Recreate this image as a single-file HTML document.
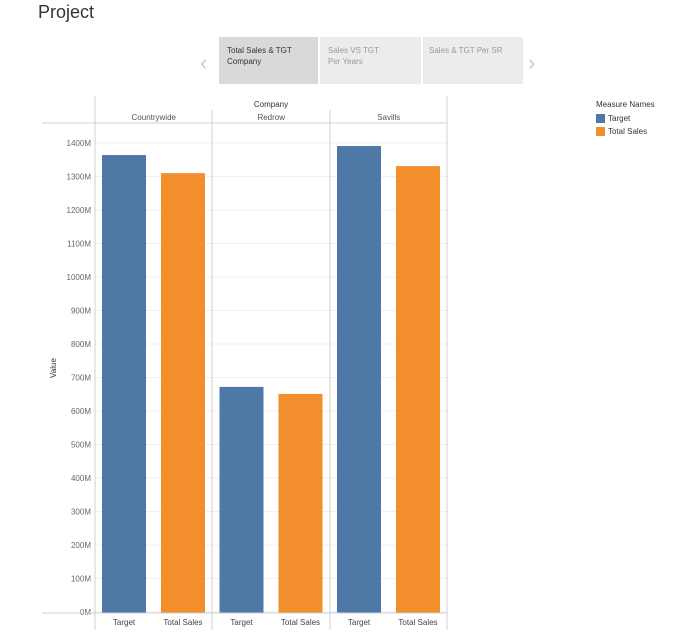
<!DOCTYPE html>
<html><head><meta charset="utf-8"><style>
body{margin:0;background:#fff;font-family:"Liberation Sans",sans-serif;}
#wrap{position:relative;width:692px;height:634px;overflow:hidden}
</style></head><body>
<div id="wrap">
<div style="position:absolute;left:38px;top:2px;font-size:18px;color:#333">Project</div>
<div style="position:absolute;left:200px;top:50px;font-size:22px;color:#ccc">‹</div>
<div style="position:absolute;left:219px;top:37px;width:99px;height:47px;background:#d9d9d9;font-size:8px;color:#333;padding:8px 0 0 8px;box-sizing:border-box;line-height:11px">Total Sales &amp; TGT<br>Company</div>
<div style="position:absolute;left:320px;top:37px;width:101px;height:47px;background:#ececec;font-size:8px;color:#999;padding:8px 0 0 8px;box-sizing:border-box;line-height:11px">Sales VS TGT<br>Per Years</div>
<div style="position:absolute;left:423px;top:37px;width:100px;height:47px;background:#ececec;font-size:8px;color:#999;padding:8px 0 0 6px;box-sizing:border-box;line-height:11px">Sales &amp; TGT Per SR</div>
<div style="position:absolute;left:528px;top:50px;font-size:22px;color:#ccc">›</div>
<div style="position:absolute;left:596px;top:100px;font-size:8px;color:#333">Measure Names</div>
<div style="position:absolute;left:596px;top:114px;font-size:8px;color:#333"><span style="display:inline-block;width:9px;height:9px;background:#4e79a7;vertical-align:middle;margin-right:3px"></span>Target</div>
<div style="position:absolute;left:596px;top:127px;font-size:8px;color:#333"><span style="display:inline-block;width:9px;height:9px;background:#f28e2b;vertical-align:middle;margin-right:3px"></span>Total Sales</div>
<svg id="chart" width="692" height="634" style="position:absolute;left:0;top:0"></svg>
</div>
<script>
const companies=["Countrywide","Redrow","Savills"];
const measures=["Target","Total Sales"];
const targetValues=[1364,672,1391];
const salesValues=[1310,651,1331];
const yTicks=[0,100,200,300,400,500,600,700,800,900,1000,1100,1200,1300,1400];
const colors=["#4e79a7","#f28e2b"];
const svg=document.getElementById('chart');
const NS="http://www.w3.org/2000/svg";
function el(t,a,p){const e=document.createElementNS(NS,t);for(const k in a)e.setAttribute(k,a[k]);(p||svg).appendChild(e);return e;}
const y0=612,pxPer=0.335;
function y(v){return y0-v*pxPer;}
const paneX0=95,paneW=117.5;
function paneX(i){return paneX0+i*paneW;}
// gridlines and ticks
yTicks.forEach(t=>{
  const g=el('line',{x1:95,x2:447,y1:y(t),y2:y(t),stroke:'#f0f0f0','stroke-width':1});
  
  
  const tx=el('text',{x:91,y:y(t)+3,'text-anchor':'end','font-size':8,fill:'#666','font-family':'Liberation Sans'});
  tx.textContent=t+'M';
  
  
});
// bars
const series=[targetValues,salesValues];
companies.forEach((c,i)=>{
  series.forEach((vals,j)=>{
    const bx=paneX(i)+7+j*59;
    const r=el('rect',{x:bx,y:y(vals[i]),width:44,height:y0-y(vals[i])+1,fill:colors[j]});
    
    
    const lx=el('text',{x:bx+22,y:625,'text-anchor':'middle','font-size':8,fill:'#444','font-family':'Liberation Sans'});
    lx.textContent=measures[j];
    
    
  });
  const h=el('text',{x:paneX(i)+paneW/2,y:120,'text-anchor':'middle','font-size':8,fill:'#555','font-family':'Liberation Sans'});
  h.textContent=c;
  
  
});
// structural lines
[[95,96,95,630],[212,110,212,630],[330,110,330,630],[447,96,447,630],[42,123,447,123],[42,613,447,613]].forEach(l=>{
  const e=el('line',{x1:l[0],y1:l[1],x2:l[2],y2:l[3],stroke:'#d0d0d0','stroke-width':1});
  
  
});
const ct=el('text',{x:271,y:107,'text-anchor':'middle','font-size':8,fill:'#333','font-family':'Liberation Sans'});
ct.textContent='Company';


const yt=el('text',{x:0,y:0,'text-anchor':'middle','font-size':8,fill:'#333','font-family':'Liberation Sans',transform:'translate(56,368) rotate(-90)'});
yt.textContent='Value';


</script>
</body></html>
